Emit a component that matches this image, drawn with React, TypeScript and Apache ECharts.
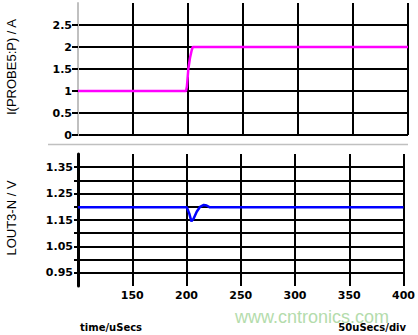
import React, { useEffect, useRef } from "react";
import * as echarts from "echarts";

// ---- data ----
const currentTime = [100, 198.2, 199.0, 200.3, 201.8, 203.4, 204.3, 400];
const currentValues = [1, 1, 1.1, 1.5, 1.75, 1.93, 2, 2];

const voltageTime = [100, 200.3, 202.5, 204.5, 206.5, 209.4, 212.5, 215.9, 218.5, 221.5, 400];
const voltageValues = [1.198, 1.198, 1.175, 1.145, 1.155, 1.181, 1.2, 1.207, 1.205, 1.198, 1.198];

const xTicks = [150, 200, 250, 300, 350, 400];
const currentTicks = [0, 0.5, 1, 1.5, 2, 2.5];
const voltageGridTicks = [0.95, 1.0, 1.05, 1.1, 1.15, 1.2, 1.25, 1.3, 1.35];
const voltageLabels = [0.95, 1.05, 1.15, 1.25, 1.35];

const currentTitle = "I(PROBE5:P) / A";
const voltageTitle = "LOUT3-N / V";
const xTitle = "time/uSecs";
const xScale = "50uSecs/div";
const watermark = "www.cntronics.com";

const labelFont = {
  color: "#000",
  fontFamily: "'DejaVu Sans', Arial, sans-serif",
  fontWeight: "bold" as const,
  fontSize: 11,
};

export default function App() {
  const ref = useRef<HTMLDivElement>(null);
  useEffect(() => {
    if (!ref.current) return;
    const chart = echarts.init(ref.current, null, { renderer: "svg" });
    const gridLine = { show: true, lineStyle: { color: "#000", width: 2 } };
    const xAxisBase = (gridIndex: number, showLabels: boolean) => ({
      type: "value" as const,
      gridIndex,
      min: 100,
      max: 400,
      interval: 50,
      axisLine: { show: false },
      axisTick: { show: false, customValues: xTicks },
      axisLabel: showLabels
        ? { show: true, ...labelFont, margin: 4, customValues: xTicks }
        : { show: false },
      splitLine: { ...gridLine },
    });
    chart.setOption({
      animation: false,
      backgroundColor: "#fff",
      grid: [
        { left: 78, top: 3, width: 330, height: 132 },
        { left: 78, top: 154, width: 330, height: 132 },
      ],
      xAxis: [xAxisBase(0, false), xAxisBase(1, true)],
      yAxis: [
        {
          type: "value",
          gridIndex: 0,
          min: 0,
          max: 3,
          interval: 0.5,
          axisLine: { show: true, lineStyle: { color: "#c0c0c0", width: 2 } },
          axisTick: { show: true, length: 6, lineStyle: { color: "#000", width: 2 }, customValues: currentTicks },
          axisLabel: { ...labelFont, margin: 6, customValues: currentTicks },
          splitLine: { ...gridLine },
        },
        {
          type: "value",
          gridIndex: 1,
          min: 0.9,
          max: 1.4,
          interval: 0.05,
          axisLine: { show: true, lineStyle: { color: "#000", width: 3 } },
          axisTick: { show: true, length: 4, lineStyle: { color: "#000", width: 2 }, customValues: voltageGridTicks },
          axisLabel: { ...labelFont, margin: 5, customValues: voltageLabels },
          splitLine: { ...gridLine },
        },
      ],
      series: [
        {
          type: "line",
          xAxisIndex: 0,
          yAxisIndex: 0,
          showSymbol: false,
          lineStyle: { color: "#ff00ff", width: 2.5 },
          data: currentTime.map((t, i) => [t, currentValues[i]]),
          z: 5,
        },
        {
          type: "line",
          xAxisIndex: 1,
          yAxisIndex: 1,
          showSymbol: false,
          lineStyle: { color: "#0000ff", width: 2.5 },
          data: voltageTime.map((t, i) => [t, voltageValues[i]]),
          z: 5,
        },
      ],
      graphic: [
        {
          type: "line",
          shape: { x1: 48, y1: 144.5, x2: 408, y2: 144.5 },
          style: { stroke: "#c0c0c0", lineWidth: 1.5 },
        },
        {
          type: "text",
          x: 11,
          y: 67,
          rotation: Math.PI / 2,
          style: {
            text: currentTitle,
            fill: "#000",
            font: "13px 'Liberation Sans', Arial, sans-serif",
            textAlign: "center",
            textVerticalAlign: "middle",
          },
        },
        {
          type: "text",
          x: 11,
          y: 218,
          rotation: Math.PI / 2,
          style: {
            text: voltageTitle,
            fill: "#000",
            font: "13px 'Liberation Sans', Arial, sans-serif",
            textAlign: "center",
            textVerticalAlign: "middle",
          },
        },
        {
          type: "text",
          x: 235,
          y: 317,
          style: {
            text: watermark,
            fill: "#b4dcac",
            font: "18px 'Liberation Sans', Arial, sans-serif",
            textAlign: "left",
            textVerticalAlign: "middle",
          },
        },
        {
          type: "text",
          x: 80,
          y: 327,
          style: {
            text: xTitle,
            fill: "#000",
            font: "bold 10px 'DejaVu Sans', Arial, sans-serif",
            textAlign: "left",
            textVerticalAlign: "middle",
          },
        },
        {
          type: "text",
          x: 406,
          y: 327,
          style: {
            text: xScale,
            fill: "#000",
            font: "bold 10px 'DejaVu Sans', Arial, sans-serif",
            textAlign: "right",
            textVerticalAlign: "middle",
          },
        },
      ],
    });
    return () => chart.dispose();
  }, []);
  return <div ref={ref} style={{ width: 418, height: 335, position: "absolute", left: 0, top: 0 }} />;
}
